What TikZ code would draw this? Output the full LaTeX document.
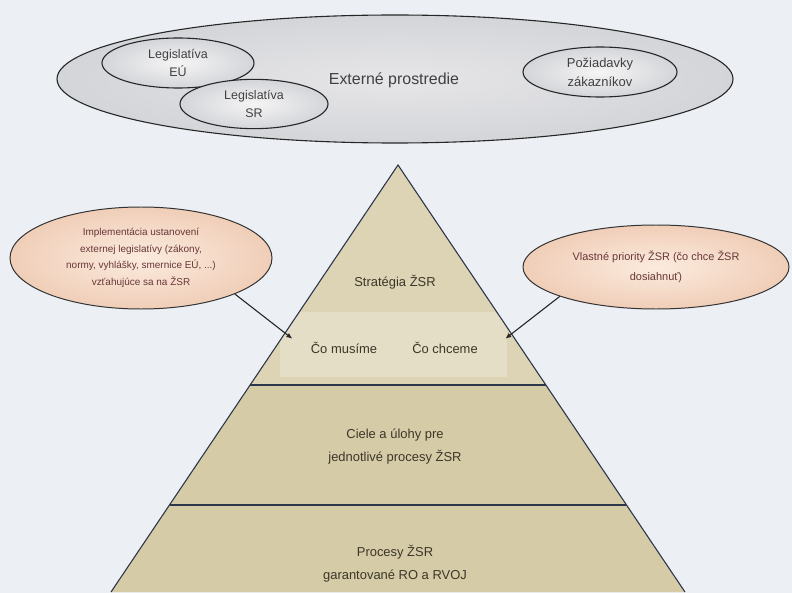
\documentclass[tikz,border=0pt]{standalone}
\usepackage{fontspec}
\setmainfont{Liberation Sans}
\usetikzlibrary{shapes.geometric,arrows.meta,calc}

\definecolor{bgpaper}{RGB}{236,239,244}
\definecolor{rimgray}{RGB}{212,213,217}
\definecolor{coregray}{RGB}{230,230,232}
\definecolor{peachin}{RGB}{251,235,222}
\definecolor{peachout}{RGB}{240,206,184}
\definecolor{pyrtan}{RGB}{214,203,167}
\definecolor{pyrtop}{RGB}{220,212,180}
\definecolor{pyredge}{RGB}{45,55,75}
\definecolor{maroontext}{RGB}{105,55,55}
\definecolor{browntext}{RGB}{60,54,40}

\tikzset{
    envbubble/.style={ellipse, draw=black!85, line width=1.1pt,
        inner color=coregray, outer color=rimgray},
    smallbubble/.style={ellipse, draw=black!85, line width=1.1pt,
        inner color=white!96!black, outer color=rimgray, align=center,
        text=black!75, font=\fontsize{12.5}{19}\selectfont},
    callout/.style={ellipse, draw=black!80, line width=1pt,
        inner color=peachin, outer color=peachout, align=center,
        text=maroontext},
    pyrtext/.style={align=center, text=browntext,
        font=\fontsize{13}{23}\selectfont},
    pointer/.style={-{Latex[length=6bp,width=5bp]}, line width=1.1pt, black!85}
}

\begin{document}
\begin{tikzpicture}[x=1bp,y=-1bp]
    % Background
    \fill[bgpaper] (0,0) rectangle (792,593);
    \useasboundingbox (0,0) rectangle (792,593);

    % External environment
    \node[envbubble, minimum width=676bp, minimum height=128bp] (env) at (395,79) {};
    \node[text=black!75, font=\fontsize{16}{18}\selectfont] (envtxt) at (394,80) {Externé prostredie};
    \node[smallbubble, minimum width=152bp, minimum height=50bp] (legeu) at (178,63) {Legislatíva\\EÚ};
    \node[smallbubble, minimum width=148bp, minimum height=48bp] (legsr) at (254,104) {Legislatíva\\SR};
    \node[smallbubble, font=\fontsize{13}{19}\selectfont, minimum width=154bp, minimum height=50bp] (customers) at (600,72) {Požiadavky\\zákazníkov};

    % Pyramid
    \coordinate (apex) at (398,165);
    \coordinate (bl) at (111,592);
    \coordinate (br) at (685,592);
    \fill[pyrtan] (apex) -- (bl) -- (br) -- cycle;
    \fill[pyrtop] (apex) -- ($(apex)!0.515!(bl)$) -- ($(apex)!0.515!(br)$) -- cycle;
    \begin{scope}
        \clip (apex) -- (bl) -- (br) -- cycle;
        \fill[white, opacity=0.25] (280,312) rectangle (507,377); % light band
    \end{scope}
    \draw[pyredge, line width=1.1pt] (bl) -- (apex) -- (br);
    \draw[pyredge, line width=1.6pt] ($(apex)!0.515!(bl)$) -- ($(apex)!0.515!(br)$);
    \draw[pyredge, line width=1.6pt] ($(apex)!0.796!(bl)$) -- ($(apex)!0.796!(br)$);

    % Pyramid labels
    \node[pyrtext] (strategy) at (395,282) {Stratégia ŽSR};
    \node[pyrtext] (must) at (344,348) {Čo musíme};
    \node[pyrtext] (want) at (445,348) {Čo chceme};
    \node[pyrtext] (goals) at (395,447) {Ciele a úlohy pre\\jednotlivé procesy ŽSR};
    \node[pyrtext] (procs) at (395,564) {Procesy ŽSR\\garantované RO a RVOJ};

    % Callouts
    \node[callout, font=\fontsize{10}{16.7}\selectfont, minimum width=262bp, minimum height=102bp] (lcall) at (141,258)
        {Implementácia ustanovení\\externej legislatívy (zákony,\\normy, vyhlášky, smernice EÚ, ...)\\vzťahujúce sa na ŽSR};
    \node[callout, font=\fontsize{11}{20}\selectfont, minimum width=266bp, minimum height=84bp] (rcall) at (656,267)
        {Vlastné priority ŽSR (čo chce ŽSR\\dosiahnuť)};

    \draw[pointer] (lcall.-21) -- ([xshift=-15bp]must.north west);
    \draw[pointer] (rcall.197) -- ([xshift=24bp]want.north east);
\end{tikzpicture}
\end{document}
